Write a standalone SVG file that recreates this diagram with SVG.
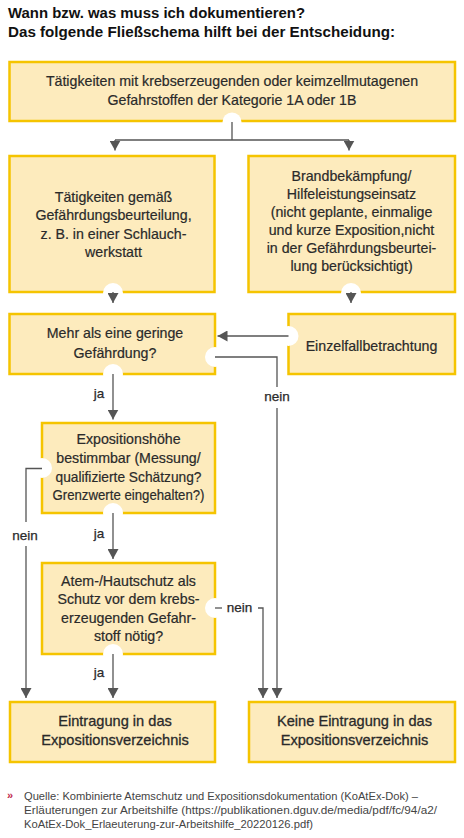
<svg xmlns="http://www.w3.org/2000/svg" width="464" height="838" viewBox="0 0 464 838">
<style>
.box{fill:#fdebbd;stroke:#f5c400;stroke-width:2.5}
.notch{fill:#ffffff}
.t{font-family:"Liberation Sans",Arial,sans-serif;font-size:14.2px;fill:#2a2a2a;stroke:#2a2a2a;stroke-width:0.2;text-anchor:middle}
.tb{font-family:"Liberation Sans",Arial,sans-serif;font-size:14.6px;fill:#2a2a2a;stroke:#2a2a2a;stroke-width:0.3;text-anchor:middle}
.lbl{font-family:"Liberation Sans",Arial,sans-serif;font-size:13.5px;fill:#2a2a2a;stroke:#2a2a2a;stroke-width:0.25;text-anchor:middle}
.title{font-family:"Liberation Sans",Arial,sans-serif;font-size:14px;font-weight:bold;fill:#111}
.fn{font-family:"Liberation Sans",Arial,sans-serif;font-size:11.5px;fill:#444}
.c{fill:none;stroke:#555;stroke-width:1.3}
</style>
<defs>
<marker id="ah" viewBox="0 0 10 11" refX="10" refY="5.5" markerWidth="10" markerHeight="11" markerUnits="userSpaceOnUse" orient="auto">
<path d="M0,0 L10,5.5 L0,11 z" fill="#555"/>
</marker>
</defs>

<g id="title">
<text class="title" x="8" y="18" textLength="297" lengthAdjust="spacingAndGlyphs">Wann bzw. was muss ich dokumentieren?</text>
<text class="title" x="8" y="37" textLength="387" lengthAdjust="spacingAndGlyphs">Das folgende Fließschema hilft bei der Entscheidung:</text>
</g>

<g id="n1">
<rect class="box" x="9.5" y="62" width="445.5" height="59"/>
<text class="t" x="232" y="86">Tätigkeiten mit krebserzeugenden oder keimzellmutagenen</text>
<text class="t" x="232" y="105">Gefahrstoffen der Kategorie 1A oder 1B</text>
</g>

<g id="n2">
<rect class="box" x="9.5" y="156" width="205" height="136"/>
<text class="t" x="113.5" y="201.5">Tätigkeiten gemäß</text>
<text class="t" x="113.5" y="220">Gefährdungsbeurteilung,</text>
<text class="t" x="113.5" y="238.5">z. B. in einer Schlauch-</text>
<text class="t" x="113.5" y="256.5">werkstatt</text>
</g>

<g id="n3">
<rect class="box" x="248.5" y="156" width="206.5" height="136"/>
<text class="t" x="351.5" y="181">Brandbekämpfung/</text>
<text class="t" x="351.5" y="199">Hilfeleistungseinsatz</text>
<text class="t" x="351.5" y="217">(nicht geplante, einmalige</text>
<text class="t" x="351.5" y="235">und kurze Exposition,nicht</text>
<text class="t" x="351.5" y="253">in der Gefährdungsbeurtei-</text>
<text class="t" x="351.5" y="271">lung berücksichtigt)</text>
</g>

<g id="n4">
<rect class="box" x="9.5" y="314" width="205.5" height="60"/>
<text class="t" x="115" y="338">Mehr als eine geringe</text>
<text class="t" x="115" y="358">Gefährdung?</text>
</g>

<g id="n5">
<rect class="box" x="288.5" y="314" width="166.5" height="60"/>
<text class="t" x="371.5" y="351">Einzelfallbetrachtung</text>
</g>

<g id="n6">
<rect class="box" x="42" y="423" width="173" height="90"/>
<text class="t" x="128.5" y="444">Expositionshöhe</text>
<text class="t" x="128.5" y="463">bestimmbar (Messung/</text>
<text class="t" x="128.5" y="481.5" textLength="146" lengthAdjust="spacingAndGlyphs">qualifizierte Schätzung?</text>
<text class="t" x="128.5" y="500" textLength="152" lengthAdjust="spacingAndGlyphs">Grenzwerte eingehalten?)</text>
</g>

<g id="n7">
<rect class="box" x="42" y="563" width="173" height="91"/>
<text class="t" x="128.5" y="585.5">Atem-/Hautschutz als</text>
<text class="t" x="128.5" y="604">Schutz vor dem krebs-</text>
<text class="t" x="128.5" y="622.5">erzeugenden Gefahr-</text>
<text class="t" x="128.5" y="641">stoff nötig?</text>
</g>

<g id="n8">
<rect class="box" x="10" y="702" width="205" height="60"/>
<text class="tb" x="115" y="726">Eintragung in das</text>
<text class="tb" x="115" y="745">Expositionsverzeichnis</text>
</g>

<g id="n9">
<rect class="box" x="249" y="702" width="206" height="60"/>
<text class="tb" x="354.5" y="726">Keine Eintragung in das</text>
<text class="tb" x="354.5" y="745">Expositionsverzeichnis</text>
</g>

<g id="notches">
<circle class="notch" cx="232" cy="122" r="9.5"/>
<circle class="notch" cx="113" cy="293" r="10"/>
<circle class="notch" cx="351" cy="293" r="10"/>
<circle class="notch" cx="215" cy="357" r="10"/>
<circle class="notch" cx="113" cy="374" r="10"/>
<circle class="notch" cx="288.5" cy="336" r="10"/>
<circle class="notch" cx="42" cy="468" r="10"/>
<circle class="notch" cx="113" cy="513" r="10"/>
<circle class="notch" cx="215" cy="608" r="10"/>
<circle class="notch" cx="113" cy="654" r="10"/>
</g>

<g id="connectors">
<path class="c" d="M232,122 V140 M115,140 H349"/>
<path class="c" d="M115,140 V150.5" marker-end="url(#ah)"/>
<path class="c" d="M349,140 V150.5" marker-end="url(#ah)"/>
<path class="c" d="M113,292 V303" marker-end="url(#ah)"/>
<path class="c" d="M351,292 V303" marker-end="url(#ah)"/>
<path class="c" d="M288.5,336 H217.5" marker-end="url(#ah)"/>
<path class="c" d="M215,357 H277 V387"/>
<path class="c" d="M277,408 V698" marker-end="url(#ah)"/>
<path class="c" d="M113,374 V419.5" marker-end="url(#ah)"/>
<path class="c" d="M42,468.5 H26 V522"/>
<path class="c" d="M26,546 V698" marker-end="url(#ah)"/>
<path class="c" d="M113,513 V559" marker-end="url(#ah)"/>
<path class="c" d="M215,608 H222"/>
<path class="c" d="M258,608 H263 V698" marker-end="url(#ah)"/>
<path class="c" d="M113,654 V698" marker-end="url(#ah)"/>
<text class="lbl" x="99" y="398">ja</text>
<text class="lbl" x="277" y="401">nein</text>
<text class="lbl" x="99" y="538">ja</text>
<text class="lbl" x="25" y="540">nein</text>
<text class="lbl" x="239.5" y="612">nein</text>
<text class="lbl" x="99" y="677">ja</text>
</g>

<g id="footnote">
<text x="7" y="799" style="font-family:'Liberation Sans',Arial,sans-serif;font-size:11px;font-weight:bold;fill:#c0284a">»</text>
<text class="fn" x="24" y="800" textLength="394" lengthAdjust="spacingAndGlyphs">Quelle: Kombinierte Atemschutz und Expositionsdokumentation (KoAtEx-Dok) –</text>
<text class="fn" x="24" y="814" textLength="413" lengthAdjust="spacingAndGlyphs">Erläuterungen zur Arbeitshilfe (https://publikationen.dguv.de/media/pdf/fc/94/a2/</text>
<text class="fn" x="24" y="828" textLength="289" lengthAdjust="spacingAndGlyphs">KoAtEx-Dok_Erlaeuterung-zur-Arbeitshilfe_20220126.pdf)</text>
</g>
</svg>
